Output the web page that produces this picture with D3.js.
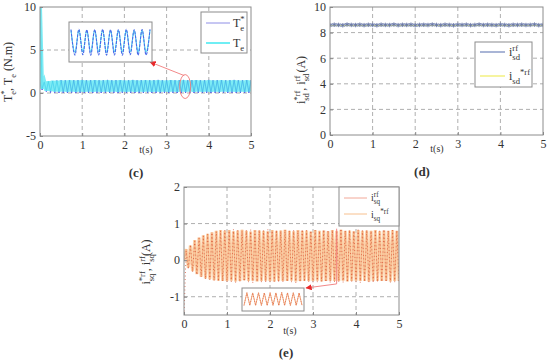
<!DOCTYPE html>
<html>
<head>
<meta charset="utf-8">
<script src="https://cdn.jsdelivr.net/npm/d3@7"></script>
<style>
  body { margin: 0; background: #fff; }
  svg { display: block; }
  text { font-family: "Liberation Serif", "Times New Roman", serif; fill: #333; }
</style>
</head>
<body>
<script>
// ---- data ----
const timeTicks = [0, 1, 2, 3, 4, 5];
const cYTicks = [-5, 0, 5, 10];
const dYTicks = [0, 2, 4, 6, 8, 10];
const eYTicks = [-1, 0, 1, 2];

// (c) torque, half-cycle extremes every 0.05 s
const halfStep = 0.05;
const teStar = [1.3, 0.35, 1.2, 0.15, 1.3, 0.05, 1.4, 0.02, 1.45, 0.0,
  1.5, 0.01, 1.48, 0.0, 1.51, 0.02, 1.49, 0.0, 1.5, 0.01,
  1.52, 0.0, 1.49, 0.01, 1.5, 0.0, 1.51, 0.02, 1.48, 0.0,
  1.5, 0.01, 1.52, 0.0, 1.49, 0.01, 1.5, 0.0, 1.51, 0.02,
  1.49, 0.0, 1.5, 0.01, 1.52, 0.0, 1.48, 0.01, 1.5, 0.0,
  1.51, 0.02, 1.49, 0.0, 1.5, 0.01, 1.52, 0.0, 1.49, 0.01,
  1.5, 0.0, 1.51, 0.02, 1.48, 0.0, 1.5, 0.01, 1.52, 0.0,
  1.49, 0.01, 1.5, 0.0, 1.51, 0.02, 1.49, 0.0, 1.5, 0.01,
  1.52, 0.0, 1.48, 0.01, 1.5, 0.0, 1.51, 0.02, 1.49, 0.0,
  1.5, 0.01, 1.52, 0.0, 1.49, 0.01, 1.5, 0.0, 1.51, 0.02,
  1.5];
const te = [10, 0.5, 1.3, 0.3, 1.35, 0.25, 1.4, 0.2, 1.42, 0.18,
  1.45, 0.18, 1.43, 0.16, 1.46, 0.2, 1.44, 0.17, 1.45, 0.19,
  1.46, 0.16, 1.43, 0.18, 1.45, 0.17, 1.47, 0.2, 1.44, 0.16,
  1.45, 0.18, 1.46, 0.17, 1.43, 0.19, 1.45, 0.16, 1.47, 0.18,
  1.44, 0.17, 1.45, 0.2, 1.46, 0.16, 1.43, 0.18, 1.45, 0.17,
  1.47, 0.19, 1.44, 0.16, 1.45, 0.18, 1.46, 0.17, 1.43, 0.2,
  1.45, 0.16, 1.47, 0.18, 1.44, 0.17, 1.45, 0.19, 1.46, 0.16,
  1.43, 0.18, 1.45, 0.17, 1.47, 0.2, 1.44, 0.16, 1.45, 0.18,
  1.46, 0.17, 1.43, 0.19, 1.45, 0.16, 1.47, 0.18, 1.44, 0.17,
  1.45, 0.2, 1.46, 0.16, 1.43, 0.18, 1.45, 0.17, 1.47, 0.19,
  1.45];

// (d) d-axis current, every 0.1 s
const dStep = 0.1;
const isd = [8.58, 8.62, 8.6, 8.57, 8.63, 8.6, 8.59, 8.62, 8.58, 8.61,
  8.6, 8.57, 8.62, 8.6, 8.59, 8.63, 8.58, 8.61, 8.6, 8.62,
  8.57, 8.6, 8.61, 8.59, 8.63, 8.6, 8.58, 8.62, 8.6, 8.57,
  8.61, 8.6, 8.62, 8.58, 8.6, 8.63, 8.59, 8.61, 8.6, 8.58,
  8.62, 8.6, 8.57, 8.61, 8.6, 8.62, 8.59, 8.6, 8.63, 8.58,
  8.6];
const isdRefT = [0, 5];
const isdRef = [8.55, 8.55];

// (e) q-axis current, half-cycle extremes every 0.05 s
const isqStar = [0, 0.3, -0.2, 0.4, -0.3, 0.55, -0.38, 0.62, -0.45, 0.68,
  -0.5, 0.72, -0.52, 0.76, -0.55, 0.8, -0.56, 0.82, -0.57,
  0.8, -0.57, 0.82, -0.56, 0.79, -0.58, 0.81, -0.57, 0.83, -0.55,
  0.8, -0.57, 0.78, -0.56, 0.82, -0.58, 0.81, -0.57, 0.8, -0.56,
  0.79, -0.57, 0.82, -0.58, 0.8, -0.56, 0.81, -0.57, 0.83, -0.57,
  0.8, -0.56, 0.79, -0.58, 0.82, -0.57, 0.8, -0.56, 0.81, -0.57,
  0.78, -0.57, 0.82, -0.56, 0.8, -0.58, 0.81, -0.57, 0.79, -0.56,
  0.82, -0.57, 0.8, -0.57, 0.83, -0.56, 0.8, -0.58, 0.81, -0.57,
  0.79, -0.56, 0.82, -0.57, 0.8, -0.57, 0.81, -0.58, 0.8, -0.56,
  0.82, -0.57, 0.79, -0.57, 0.81, -0.56, 0.8, -0.58, 0.82, -0.57,
  0.8, -0.57];
const isq = [-1.5, 0.25, -0.25, 0.42, -0.32, 0.52, -0.4, 0.6, -0.46, 0.66,
  -0.52, 0.7, -0.54, 0.75, -0.56, 0.78, -0.58, 0.8, -0.58,
  0.82, -0.6, 0.8, -0.59, 0.84, -0.61, 0.81, -0.6, 0.79, -0.58,
  0.82, -0.6, 0.83, -0.62, 0.8, -0.59, 0.82, -0.6, 0.81, -0.61,
  0.84, -0.6, 0.8, -0.58, 0.82, -0.61, 0.79, -0.6, 0.83, -0.59,
  0.81, -0.6, 0.82, -0.62, 0.8, -0.6, 0.84, -0.59, 0.81, -0.6,
  0.8, -0.61, 0.82, -0.6, 0.79, -0.58, 0.83, -0.6, 0.81, -0.62,
  0.82, -0.59, 0.8, -0.6, 0.86, -0.61, 0.81, -0.6, 0.82, -0.58,
  0.8, -0.6, 0.83, -0.61, 0.81, -0.59, 0.82, -0.6, 0.79, -0.62,
  0.82, -0.6, 0.8, -0.59, 0.84, -0.6, 0.81, -0.61, 0.82, -0.6,
  0.81, -0.6];

// ---- drawing ----
const svg = d3.select("body").append("svg").attr("width", 550).attr("height", 362);

const defs = svg.append("defs");
defs.append("marker").attr("id", "arrow")
  .attr("viewBox", "0 0 10 10").attr("refX", 9).attr("refY", 5)
  .attr("markerWidth", 7).attr("markerHeight", 7).attr("orient", "auto-start-reverse")
  .append("path").attr("d", "M0,0 L10,5 L0,10 z").attr("fill", "#e8282a");

function series(vals, step, t0) {
  return vals.map((v, i) => [(t0 || 0) + i * step, v]);
}

function rich(sel, parts, size) {
  let shift = 0, prev = null;
  parts.forEach(([s, k]) => {
    const target = k.startsWith("sub") ? size * 0.32 : k.startsWith("sup") ? -size * 0.42 : 0;
    const ts = sel.append("tspan")
      .attr("dy", target - shift)
      .style("font-size", (k === "n" ? size : size * 0.72) + "px")
      .text(s);
    if (k.endsWith("2") && prev) ts.attr("dx", -prev.node().getComputedTextLength());
    shift = target;
    prev = ts;
  });
}

function makePanel(id, box, yDom, yTicks) {
  const x = d3.scaleLinear().domain([0, 5]).range([box.l, box.r]);
  const y = d3.scaleLinear().domain(yDom).range([box.b, box.t]);
  const g = svg.append("g");
  g.append("rect").attr("x", box.l).attr("y", box.t)
    .attr("width", box.r - box.l).attr("height", box.b - box.t).attr("fill", "#fff");
  g.selectAll(".gx").data(timeTicks.filter(v => v > 0 && v < 5)).join("line")
    .attr("x1", d => x(d)).attr("x2", d => x(d)).attr("y1", box.t).attr("y2", box.b)
    .attr("stroke", "#9a9a9a").attr("stroke-width", 0.8).attr("stroke-dasharray", "4,3");
  g.selectAll(".gy").data(yTicks.filter(v => v > yDom[0] && v < yDom[1])).join("line")
    .attr("y1", d => y(d)).attr("y2", d => y(d)).attr("x1", box.l).attr("x2", box.r)
    .attr("stroke", "#9a9a9a").attr("stroke-width", 0.8).attr("stroke-dasharray", "4,3");
  defs.append("clipPath").attr("id", id).append("rect")
    .attr("x", box.l).attr("y", box.t).attr("width", box.r - box.l).attr("height", box.b - box.t);
  const plot = g.append("g").attr("clip-path", `url(#${id})`);
  return { x, y, g, plot, box, yTicks };
}

function finishPanel(p) {
  const { x, y, g, box } = p;
  g.append("rect").attr("x", box.l).attr("y", box.t)
    .attr("width", box.r - box.l).attr("height", box.b - box.t)
    .attr("fill", "none").attr("stroke", "#8c8c8c").attr("stroke-width", 1);
  const ax = g.append("g").attr("transform", `translate(0,${box.b})`)
    .call(d3.axisBottom(x).tickValues(timeTicks).tickSize(-3).tickPadding(4.5).tickFormat(d => String(d)));
  const ay = g.append("g").attr("transform", `translate(${box.l},0)`)
    .call(d3.axisLeft(y).tickValues(p.yTicks).tickSize(-3).tickPadding(4).tickFormat(d => String(d)));
  [ax, ay].forEach(a => {
    a.attr("font-family", null);
    a.select(".domain").remove();
    a.selectAll("line").attr("stroke", "#888");
    a.selectAll("text").style("font-size", "12px")
      .style("font-family", "'Liberation Serif', serif").attr("fill", "#333");
  });
}

function legendBox(x0, y0, x1, y1) {
  svg.append("rect").attr("x", x0).attr("y", y0).attr("width", x1 - x0).attr("height", y1 - y0)
    .attr("fill", "#fff").attr("stroke", "#8c8c8c").attr("stroke-width", 1);
}

// ---------- (c) ----------
const pc = makePanel("clipC", { l: 40, r: 251, t: 7, b: 136 }, [-5, 10], cYTicks);
const cTe = series(te, halfStep);
const cTeStar = series(teStar, halfStep);
const lc = d3.line().x(d => pc.x(d[0])).y(d => pc.y(d[1]));
pc.plot.append("path").attr("d", lc(cTeStar)).attr("fill", "none")
  .attr("stroke", "#5a5aea").attr("stroke-width", 1);
pc.plot.append("path").attr("d", lc(cTe)).attr("fill", "none")
  .attr("stroke", "#72eaf4").attr("stroke-width", 4).attr("opacity", 0.92);
pc.plot.append("path").attr("d", lc(cTe)).attr("fill", "none")
  .attr("stroke", "#30d0e8").attr("stroke-width", 0.6).attr("opacity", 0.7);
pc.plot.append("path").attr("d", lc(cTeStar.slice(10))).attr("fill", "none")
  .attr("stroke", "#4a70e0").attr("stroke-width", 0.5).attr("opacity", 0.45);
finishPanel(pc);

// ellipse + arrow + inset
pc.g.append("ellipse").attr("cx", pc.x(3.44)).attr("cy", pc.y(0.75)).attr("rx", 5.5).attr("ry", 12)
  .attr("fill", "none").attr("stroke", "#f07a7a").attr("stroke-width", 0.9);
pc.g.append("path").attr("d", `M${pc.x(3.44) - 1},${pc.y(0.75) - 11} L150,62`)
  .attr("stroke", "#f07a7a").attr("stroke-width", 0.9).attr("fill", "none")
  .attr("marker-end", "url(#arrow)");
legendBox(69, 22, 152, 62);
{
  const ix = d3.scaleLinear().domain([3.0, 4.0]).range([71, 150]);
  const iy = d3.scaleLinear().domain([-0.05, 1.65]).range([56, 27]);
  const li = d3.line().x(d => ix(d[0])).y(d => iy(d[1])).curve(d3.curveMonotoneX);
  const inRange = d => d[0] >= 3.0 - 1e-9 && d[0] <= 4.0 + 1e-9;
  svg.append("path").attr("d", li(cTe.filter(inRange))).attr("fill", "none")
    .attr("stroke", "#3fe2f0").attr("stroke-width", 1);
  svg.append("path").attr("d", li(cTeStar.filter(inRange))).attr("fill", "none")
    .attr("stroke", "#4a6ae8").attr("stroke-width", 1.1).attr("stroke-dasharray", "3,1");
}
legendBox(201, 12, 247, 53);
svg.append("line").attr("x1", 206).attr("x2", 230).attr("y1", 23).attr("y2", 23)
  .attr("stroke", "#8e8ee6").attr("stroke-width", 1);
svg.append("line").attr("x1", 206).attr("x2", 230).attr("y1", 43).attr("y2", 43)
  .attr("stroke", "#3fe8f0").attr("stroke-width", 1.5);
rich(svg.append("text").attr("x", 233).attr("y", 27), [["T", "n"], ["*", "sup"], ["e", "sub2"]], 12);
rich(svg.append("text").attr("x", 233).attr("y", 47), [["T", "n"], ["e", "sub"]], 12);
rich(svg.append("text").attr("transform", "translate(12,72) rotate(-90)").attr("text-anchor", "middle"),
  [["T", "n"], ["*", "sup"], ["e", "sub2"], [", T", "n"], ["e", "sub"], [" (N.m)", "n"]], 12);
svg.append("text").attr("x", 146).attr("y", 153).attr("text-anchor", "middle").style("font-size", "10px").text("t(s)");
svg.append("text").attr("x", 136).attr("y", 177).attr("text-anchor", "middle")
  .style("font-size", "13px").style("font-weight", "bold").text("(c)");

// ---------- (d) ----------
const pd = makePanel("clipD", { l: 330, r: 543, t: 7, b: 135 }, [0, 10], dYTicks);
const ld = d3.line().x(d => pd.x(d[0])).y(d => pd.y(d[1]));
const dIsd = series(isd, dStep);
pd.plot.append("path").attr("d", ld(dIsd)).attr("fill", "none")
  .attr("stroke", "#a9b5d6").attr("stroke-width", 3);
pd.plot.append("path").attr("d", ld(isdRefT.map((t, i) => [t, isdRef[i]]))).attr("fill", "none")
  .attr("stroke", "#d8e070").attr("stroke-width", 0.8).attr("opacity", 0.8);
pd.plot.selectAll(".mk").data(dIsd).join("path")
  .attr("transform", d => `translate(${pd.x(d[0])},${pd.y(d[1])})`)
  .attr("d", d3.symbol(d3.symbolAsterisk, 14))
  .attr("fill", "none").attr("stroke", "#6876a2").attr("stroke-width", 0.8);
finishPanel(pd);
legendBox(475, 42, 532, 87);
svg.append("line").attr("x1", 480).attr("x2", 505).attr("y1", 52).attr("y2", 52)
  .attr("stroke", "#a9b5d6").attr("stroke-width", 2);
svg.append("line").attr("x1", 480).attr("x2", 505).attr("y1", 76).attr("y2", 76)
  .attr("stroke", "#f0ec60").attr("stroke-width", 1.2);
rich(svg.append("text").attr("x", 509).attr("y", 56), [["i", "n"], ["sd", "sub"], ["rf", "sup2"]], 12);
rich(svg.append("text").attr("x", 509).attr("y", 80), [["i", "n"], ["sd", "sub"], ["*rf", "sup"]], 12);
rich(svg.append("text").attr("transform", "translate(305,80) rotate(-90)").attr("text-anchor", "middle"),
  [["i", "n"], ["sd", "sub"], ["*rf", "sup2"], [", i", "n"], ["sd", "sub"], ["rf", "sup2"], [" (A)", "n"]], 12);
svg.append("text").attr("x", 437).attr("y", 152).attr("text-anchor", "middle").style("font-size", "10px").text("t(s)");
svg.append("text").attr("x", 422).attr("y", 176).attr("text-anchor", "middle")
  .style("font-size", "13px").style("font-weight", "bold").text("(d)");

// ---------- (e) ----------
const pe = makePanel("clipE", { l: 184, r: 399, t: 187, b: 315 }, [-1.5, 2], eYTicks);
const le = d3.line().x(d => pe.x(d[0])).y(d => pe.y(d[1]));
const eStar = series(isqStar, halfStep);
const eIsq = series(isq, halfStep);
pe.plot.append("path").attr("d", le(eStar)).attr("fill", "none")
  .attr("stroke", "#fbd2ab").attr("stroke-width", 3.2);
pe.plot.append("path").attr("d", le(eStar)).attr("fill", "none")
  .attr("stroke", "#f3a46e").attr("stroke-width", 0.6);
pe.plot.append("path").attr("d", le(eIsq)).attr("fill", "none")
  .attr("stroke", "#d9583c").attr("stroke-width", 0.8).attr("stroke-dasharray", "1,2.5");
finishPanel(pe);
pe.g.append("line").attr("x1", pe.x(3.55)).attr("x2", pe.x(3.55)).attr("y1", pe.y(0.86)).attr("y2", pe.y(-0.65))
  .attr("stroke", "#f07a7a").attr("stroke-width", 0.9);
pe.g.append("path").attr("d", `M${pe.x(3.55)},${pe.y(-0.65)} L306,288`)
  .attr("stroke", "#f07a7a").attr("stroke-width", 0.9).attr("fill", "none")
  .attr("marker-end", "url(#arrow)");
legendBox(242, 288, 304, 311);
{
  const ix = d3.scaleLinear().domain([3.0, 4.0]).range([244, 302]);
  const iy = d3.scaleLinear().domain([-0.65, 0.9]).range([306, 292]);
  const li = d3.line().x(d => ix(d[0])).y(d => iy(d[1]));
  const inRange = d => d[0] >= 3.0 - 1e-9 && d[0] <= 4.0 + 1e-9;
  svg.append("path").attr("d", li(eStar.filter(inRange))).attr("fill", "none")
    .attr("stroke", "#f0a070").attr("stroke-width", 0.9);
  svg.append("path").attr("d", li(eIsq.filter(inRange))).attr("fill", "none")
    .attr("stroke", "#d9583c").attr("stroke-width", 0.6).attr("stroke-dasharray", "1,1.5");
}
legendBox(339, 187, 399, 226);
svg.append("line").attr("x1", 344).attr("x2", 367).attr("y1", 198).attr("y2", 198)
  .attr("stroke", "#f2a898").attr("stroke-width", 1);
svg.append("line").attr("x1", 344).attr("x2", 367).attr("y1", 214).attr("y2", 214)
  .attr("stroke", "#f7c08e").attr("stroke-width", 1);
rich(svg.append("text").attr("x", 371).attr("y", 201), [["i", "n"], ["sq", "sub"], ["rf", "sup2"]], 10);
rich(svg.append("text").attr("x", 371).attr("y", 218), [["i", "n"], ["sq", "sub"], ["*rf", "sup"]], 10);
rich(svg.append("text").attr("transform", "translate(150,262) rotate(-90)").attr("text-anchor", "middle"),
  [["i", "n"], ["sq", "sub"], ["*rf", "sup2"], [", i", "n"], ["sq", "sub"], ["rf", "sup2"], ["(A)", "n"]], 12);
svg.append("text").attr("x", 290).attr("y", 334).attr("text-anchor", "middle").style("font-size", "10px").text("t(s)");
svg.append("text").attr("x", 286).attr("y", 357).attr("text-anchor", "middle")
  .style("font-size", "13px").style("font-weight", "bold").text("(e)");
</script>
</body>
</html>
